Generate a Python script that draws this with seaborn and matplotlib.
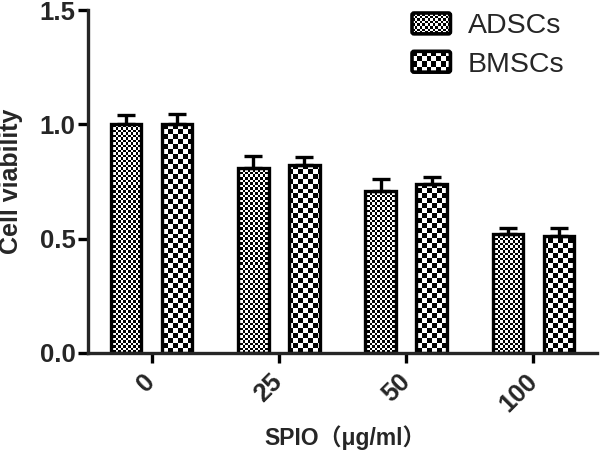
import numpy as np
import pandas as pd
import matplotlib
matplotlib.use("Agg")
import matplotlib.pyplot as plt
import seaborn as sns
from matplotlib.patches import Patch, FancyBboxPatch
from matplotlib.legend_handler import HandlerBase
from matplotlib.image import BboxImage
from matplotlib.transforms import Bbox, TransformedBbox
from matplotlib.ticker import FormatStrFormatter

# ---- data ----
doses = ["0", "25", "50", "100"]
groups = ["ADSCs", "BMSCs"]
adscs = [1.00, 0.81, 0.71, 0.52]
bmscs = [1.00, 0.82, 0.74, 0.51]
adscs_err = [0.04, 0.05, 0.052, 0.025]
bmscs_err = [0.045, 0.035, 0.03, 0.036]
y_ticks = [0.0, 0.5, 1.0, 1.5]

sns.set_style("ticks")
plt.rcParams["font.family"] = ["Liberation Sans", "Noto Sans CJK SC"]

df = pd.DataFrame({
    "dose": doses * 2,
    "group": [groups[0]] * len(doses) + [groups[1]] * len(doses),
    "value": adscs + bmscs,
})

W, H = 600, 450
fig = plt.figure(figsize=(W / 100, H / 100), dpi=100)
ax_l, ax_b, ax_w, ax_h = 88, 97, 509, 343
ax = fig.add_axes([ax_l / W, ax_b / H, ax_w / W, ax_h / H])

sns.barplot(data=df, x="dose", y="value", hue="group", order=doses,
            hue_order=groups, errorbar=None, width=0.8, gap=0.4,
            palette=["white", "white"], edgecolor="black", linewidth=2.4,
            legend=False, ax=ax)
ax.set_xlim(-0.5, 3.5)
ax.set_ylim(0, 1.5)


def checker(ny, nx):
    yy, xx = np.indices((ny, nx))
    v = ((yy + xx) % 2).astype(float)
    return np.dstack([v, v, v])


cells = {"ADSCs": 2.5, "BMSCs": 5.0}
errs = {"ADSCs": adscs_err, "BMSCs": bmscs_err}
vals = {"ADSCs": adscs, "BMSCs": bmscs}

for cont, g in zip(ax.containers, groups):
    c = cells[g]
    img_arr = checker(int(round(ax_h / c)), int(round(ax_w / c)))
    xs = []
    for bar in cont:
        im = ax.imshow(img_arr, extent=[0, 1, 0, 1], transform=ax.transAxes,
                       interpolation="nearest", zorder=0.5, aspect="auto")
        im.set_clip_path(bar)
        bar.set_facecolor("none")
        bar.set_zorder(1)
        xs.append(bar.get_x() + bar.get_width() / 2)
    e = errs[g]
    ax.errorbar(xs, vals[g], yerr=[np.zeros(len(e)), e], fmt="none",
                ecolor="black", elinewidth=2.4, capsize=6.5, capthick=2.4,
                zorder=0.8)

ax.set_xlim(-0.5, 3.5)
ax.set_ylim(0, 1.5)
ax.set_yticks(y_ticks)
ax.yaxis.set_major_formatter(FormatStrFormatter("%.1f"))

for side in ["top", "right"]:
    ax.spines[side].set_visible(False)
for side in ["left", "bottom"]:
    ax.spines[side].set_linewidth(2.4)

ax.tick_params(axis="both", width=2.4, length=7, direction="out",
               labelsize=18.5, color="black")
ax.tick_params(axis="y", pad=2)
ax.tick_params(axis="x", pad=11)
for lab in ax.get_yticklabels():
    lab.set_fontweight("bold")
for lab in ax.get_xticklabels():
    lab.set_fontweight("bold")
    lab.set_rotation(45)
    lab.set_ha("right")
    lab.set_va("center")
    lab.set_rotation_mode("anchor")

ax.set_ylabel("Cell viability", fontsize=18, fontweight="bold")
ax.yaxis.set_label_coords(-0.128, 0.5)
ax.set_xlabel("SPIO（μg/ml）", fontsize=16.5, fontweight="bold")
ax.xaxis.set_label_coords(0.505, -0.21)


class CheckerHandler(HandlerBase):
    def __init__(self, cell):
        super().__init__()
        self.cell = cell

    def create_artists(self, legend, orig_handle, xdescent, ydescent,
                       width, height, fontsize, trans):
        x0, y0 = -xdescent, -ydescent
        bb = TransformedBbox(Bbox.from_bounds(x0, y0, width, height), trans)
        wpx = width * 100 / 72
        hpx = height * 100 / 72
        img = BboxImage(bb, interpolation="nearest")
        img.set_data(checker(max(1, int(round(hpx / self.cell))),
                             max(1, int(round(wpx / self.cell)))))
        rect = FancyBboxPatch((x0, y0), width, height,
                              boxstyle="round,pad=0,rounding_size=1.5",
                              fc="none", ec="black", lw=2.6, transform=trans)
        return [img, rect]


h1 = Patch(label=groups[0])
h2 = Patch(label=groups[1])
leg = ax.legend(handles=[h1, h2],
                handler_map={h1: CheckerHandler(cells["ADSCs"]),
                             h2: CheckerHandler(cells["BMSCs"])},
                loc="upper left", bbox_to_anchor=(412 / W, 1 - 13 / H),
                bbox_transform=fig.transFigure, frameon=False, fontsize=20.5,
                handlelength=1.35, handleheight=0.75, handletextpad=0.6,
                labelspacing=0.42, borderpad=0, borderaxespad=0)

fig.savefig("out.png", dpi=100)
